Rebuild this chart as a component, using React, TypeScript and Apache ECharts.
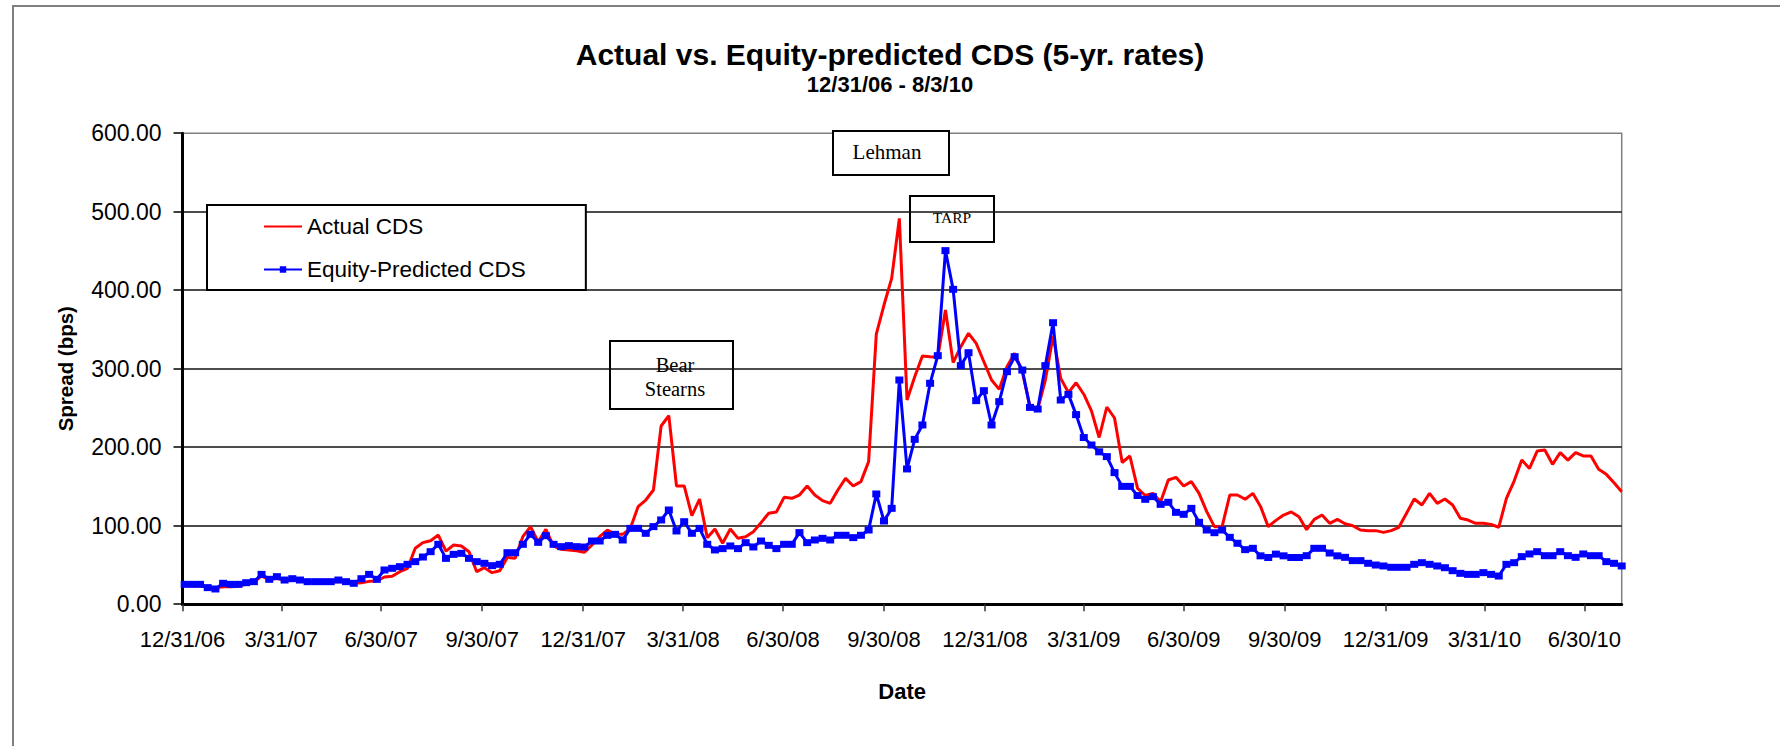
import { useEffect, useRef } from "react";
import * as echarts from "echarts";

// Weekly observations, first one on Jan 2, 2007
const firstObservation = "1/2/07";
const weekMs = 7 * 24 * 3600 * 1000;

// Axis range and quarter-end tick labels
const axisRange = ["12/31/06", "8/3/10"];
const tickLabels = [
  "12/31/06", "3/31/07", "6/30/07", "9/30/07", "12/31/07", "3/31/08", "6/30/08",
  "9/30/08", "12/31/08", "3/31/09", "6/30/09", "9/30/09", "12/31/09", "3/31/10", "6/30/10",
];

// Actual 5-yr CDS spread (bps), one value per week
const actualCds = [
  23.6, 23.6, 23.6, 21.1, 21.1, 22.3, 22.3, 23.2, 25.3, 27.9,
  36.0, 31.0, 33.0, 30.0, 31.0, 30.0, 28.0, 28.0, 28.0, 28.0,
  29.0, 28.0, 26.6, 27.4, 29.1, 29.5, 34.6, 35.5, 41.4, 45.7,
  71.2, 78.4, 80.9, 88.1, 67.7, 75.4, 74.1, 66.9, 41.4, 46.5,
  40.2, 42.7, 59.7, 58.4, 86.0, 98.7, 79.6, 95.3, 74.1, 69.9,
  69.0, 68.2, 66.1, 75.4, 86.0, 94.5, 89.0, 89.0, 96.6, 124.2,
  132.7, 145.5, 227.0, 240.2, 150.6, 150.6, 112.8, 134.0, 84.8, 95.8,
  77.6, 95.8, 83.9, 86.0, 92.4, 103.9, 115.8, 117.4, 136.1, 134.9,
  139.1, 150.6, 139.1, 131.9, 128.5, 145.5, 160.3, 150.6, 156.1, 181.6,
  344.1, 381.1, 415.1, 491.5, 260.1, 289.8, 316.2, 315.3, 314.5, 374.8,
  307.7, 328.1, 345.1, 332.3, 308.9, 285.6, 273.7, 302.6, 319.6, 296.2,
  251.6, 248.2, 285.6, 341.8, 287.7, 269.6, 282.1, 267.5, 246.3, 212.4,
  251.2, 237.2, 180.5, 188.8, 147.6, 138.5, 141.2, 130.6, 158.2, 161.6,
  150.6, 156.1, 141.2, 117.9, 98.8, 98.8, 139.1, 139.1, 133.7, 141.2,
  124.6, 98.8, 106.8, 113.6, 117.5, 111.5, 94.9, 108.0, 113.6, 103.0,
  108.0, 102.5, 100.0, 94.5, 93.7, 93.7, 91.5, 93.7, 98.0, 115.8,
  134.0, 126.4, 141.2, 128.5, 134.0, 126.4, 109.4, 107.2, 103.0, 103.0,
  101.7, 98.0, 134.8, 156.9, 183.6, 173.0, 195.1, 196.4, 178.2, 193.0,
  183.6, 193.0, 188.8, 188.8, 171.8, 165.4, 154.8, 143.3,
];

// Equity-predicted 5-yr CDS spread (bps), same weeks
const predictedCds = [
  25.3, 25.3, 25.3, 21.1, 19.4, 26.6, 25.3, 25.3, 27.4, 28.7,
  38.0, 31.7, 35.1, 30.8, 32.5, 30.8, 28.7, 28.7, 28.7, 28.7,
  30.8, 28.7, 26.6, 32.5, 38.0, 31.7, 43.6, 45.7, 47.8, 50.8,
  54.2, 60.1, 66.9, 76.3, 58.4, 63.5, 64.8, 58.4, 54.2, 52.1,
  49.1, 50.8, 65.6, 65.6, 76.3, 89.0, 78.8, 87.3, 76.3, 73.3,
  74.6, 73.3, 72.8, 80.5, 80.5, 87.7, 89.0, 81.8, 96.6, 96.6,
  90.3, 98.8, 107.3, 120.0, 93.3, 105.1, 90.3, 96.6, 76.3, 69.1,
  70.8, 74.2, 70.8, 78.4, 72.9, 80.5, 75.0, 70.8, 76.3, 76.3,
  91.2, 78.4, 81.8, 83.9, 81.8, 87.8, 87.8, 84.8, 87.8, 94.5,
  140.4, 106.0, 122.1, 285.6, 172.3, 210.0, 228.3, 281.4, 316.6, 450.4,
  401.1, 303.9, 320.4, 259.3, 272.0, 228.3, 258.0, 296.2, 315.3, 298.3,
  250.7, 248.6, 303.9, 358.6, 260.1, 267.3, 241.5, 212.3, 202.8, 194.1,
  188.0, 167.6, 150.1, 150.1, 138.5, 133.6, 137.0, 127.2, 129.8, 117.0,
  114.5, 122.1, 104.3, 94.5, 91.1, 94.5, 85.2, 77.6, 69.5, 71.2,
  61.6, 59.5, 63.8, 61.6, 59.5, 59.5, 61.8, 71.2, 71.2, 65.2,
  61.6, 59.7, 55.5, 55.5, 52.1, 49.9, 48.7, 47.0, 47.0, 47.0,
  50.8, 52.9, 50.8, 48.7, 46.5, 42.7, 39.3, 38.0, 38.0, 40.2,
  38.0, 35.9, 50.8, 52.9, 60.6, 64.0, 66.9, 61.8, 61.8, 66.9,
  61.8, 59.7, 64.0, 61.8, 61.8, 54.2, 52.1, 48.7,
];

const SANS = "'Liberation Sans', Arial, sans-serif";
const SERIF = "'Liberation Serif', 'Times New Roman', serif";

function parseDate(s: string): number {
  const [m, d, y] = s.split("/").map(Number);
  return Date.UTC(2000 + y, m - 1, d);
}

function formatDate(ts: number): string {
  const d = new Date(ts);
  return `${d.getUTCMonth() + 1}/${d.getUTCDate()}/${String(d.getUTCFullYear()).slice(2)}`;
}

const start = parseDate(firstObservation);
const toPoints = (values: number[]) => values.map((v, i) => [start + i * weekMs, v]);
const tickValues = tickLabels.map(parseDate);

function annotationBox(
  x: number, y: number, w: number, h: number,
  lines: string[], fontSize: number, textY: number[], textX: number,
) {
  return {
    type: "group",
    z: 100,
    children: [
      {
        type: "rect",
        shape: { x, y, width: w, height: h },
        style: { fill: "#fff", stroke: "#000", lineWidth: 2 },
      },
      ...lines.map((line, k) => ({
        type: "text",
        style: {
          text: line,
          x: textX,
          y: textY[k],
          align: "center",
          verticalAlign: "middle",
          fontFamily: SERIF,
          fontSize,
          fill: "#000",
        },
      })),
    ],
  };
}

export default function App() {
  const ref = useRef<HTMLDivElement>(null);

  useEffect(() => {
    if (!ref.current) return;
    const chart = echarts.init(ref.current, undefined, { renderer: "svg" });
    chart.setOption({
      animation: false,
      backgroundColor: "#fff",
      title: {
        text: "Actual vs. Equity-predicted CDS (5-yr. rates)",
        subtext: "12/31/06 - 8/3/10",
        left: "center",
        top: 34,
        itemGap: 4,
        textStyle: { fontFamily: SANS, fontWeight: "bold", fontSize: 30, color: "#000" },
        subtextStyle: { fontFamily: SANS, fontWeight: "bold", fontSize: 22, color: "#000" },
      },
      legend: {
        orient: "vertical",
        left: 207,
        top: 205,
        padding: [10, 60, 9, 56],
        itemGap: 20,
        itemWidth: 38,
        itemHeight: 8,
        backgroundColor: "#fff",
        borderColor: "#000",
        borderWidth: 2,
        textStyle: { fontFamily: SANS, fontSize: 22.5, color: "#000", lineHeight: 22 },
        data: [
          { name: "Actual CDS", itemStyle: { color: "rgba(0,0,0,0)", borderWidth: 0, opacity: 0 } },
          { name: "Equity-Predicted CDS" },
        ],
      },
      grid: {
        left: 182.5,
        top: 133.2,
        right: 158.3,
        bottom: 141.8,
        show: true,
        borderColor: "#808080",
        borderWidth: 1.5,
        backgroundColor: "#fff",
      },
      xAxis: {
        // dates are plotted as UTC timestamps on a linear axis
        type: "value",
        min: parseDate(axisRange[0]),
        max: parseDate(axisRange[1]),
        name: "Date",
        nameLocation: "middle",
        nameGap: 76,
        nameTextStyle: { fontFamily: SANS, fontWeight: "bold", fontSize: 22, color: "#000" },
        axisLine: { show: true, onZero: false, lineStyle: { color: "#000", width: 3 } },
        axisTick: { show: true, customValues: tickValues, length: 7, lineStyle: { color: "#333", width: 1.5 } },
        axisLabel: {
          customValues: tickValues,
          formatter: (v: number) => formatDate(v),
          fontFamily: SANS,
          fontSize: 22,
          color: "#000",
          margin: 24,
          hideOverlap: false,
        },
        splitLine: { show: false },
      },
      yAxis: {
        type: "value",
        min: 0,
        max: 600,
        interval: 100,
        name: "Spread (bps)",
        nameLocation: "middle",
        nameGap: 107,
        nameTextStyle: { fontFamily: SANS, fontWeight: "bold", fontSize: 20.5, color: "#000" },
        axisLine: { show: true, lineStyle: { color: "#000", width: 3 } },
        axisTick: { show: true, length: 9, lineStyle: { color: "#000", width: 1.5 } },
        axisLabel: {
          formatter: (v: number) => v.toFixed(2),
          fontFamily: SANS,
          fontSize: 23,
          color: "#000",
          margin: 21,
        },
        splitLine: { show: true, showMaxLine: false, lineStyle: { color: "#111", width: 1.6 } },
      },
      series: [
        {
          name: "Actual CDS",
          type: "line",
          data: toPoints(actualCds),
          symbol: "none",
          lineStyle: { color: "#ff0000", width: 3 },
          itemStyle: { color: "#ff0000" },
          emphasis: { disabled: true },
          z: 2,
        },
        {
          name: "Equity-Predicted CDS",
          type: "line",
          data: toPoints(predictedCds),
          symbol: "rect",
          symbolSize: [8, 7],
          lineStyle: { color: "#0000ff", width: 3 },
          itemStyle: { color: "#0000ff" },
          emphasis: { disabled: true },
          z: 3,
        },
      ],
      graphic: [
        {
          type: "rect",
          z: -10,
          silent: true,
          shape: { x: 13, y: 6, width: 1800, height: 800 },
          style: { fill: "none", stroke: "#808080", lineWidth: 2 },
        },
        annotationBox(833, 131, 116, 44, ["Lehman"], 21, [152], 887),
        annotationBox(910, 196, 84, 46, ["TARP"], 15.5, [217], 952),
        annotationBox(610, 341, 123, 68, ["Bear", "Stearns"], 20.5, [365, 389], 675),
      ],
    });
    return () => chart.dispose();
  }, []);

  return (
    <div
      ref={ref}
      style={{ position: "fixed", left: 0, top: 0, width: 1780, height: 746, background: "#fff" }}
    />
  );
}
